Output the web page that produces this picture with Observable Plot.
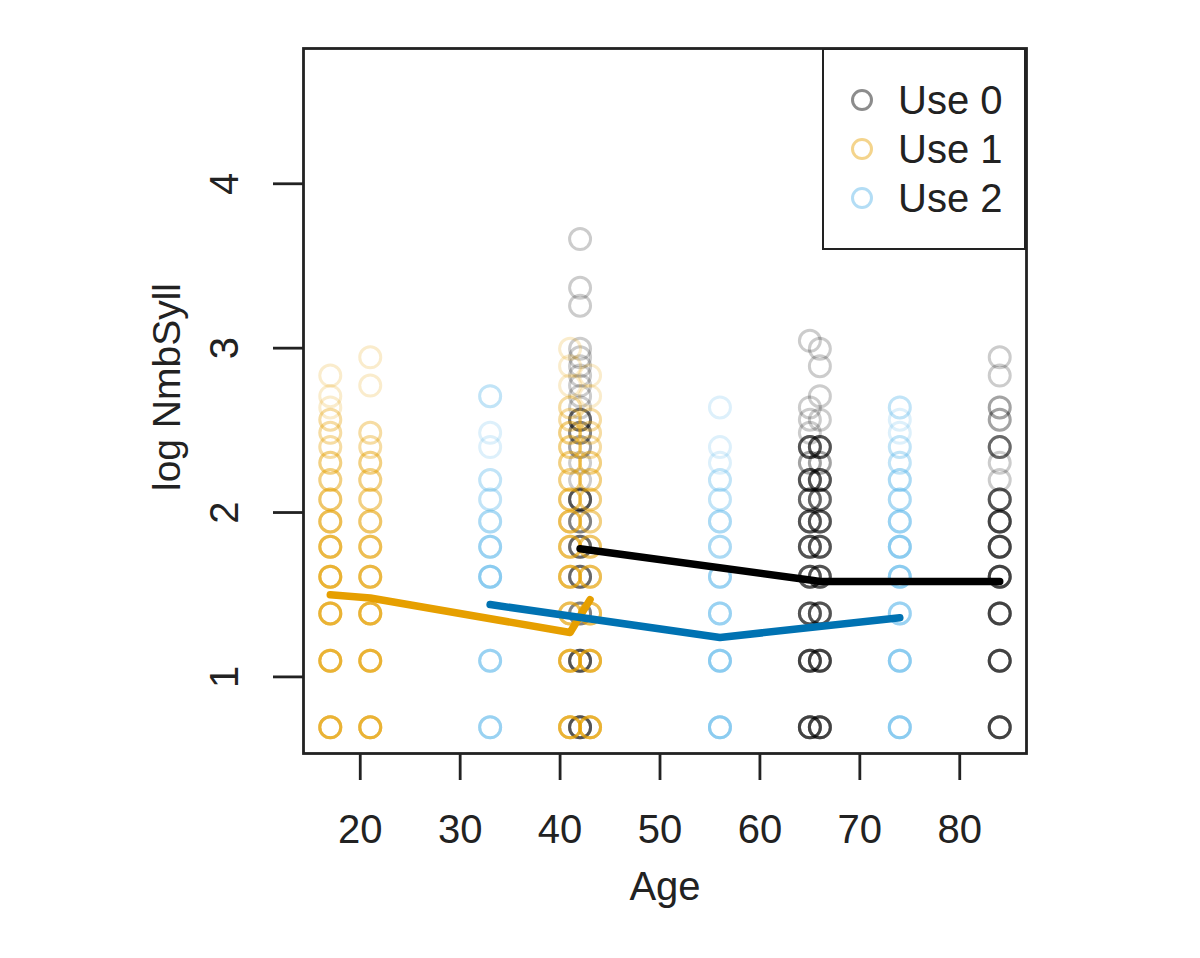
<!DOCTYPE html>
<html><head><meta charset="utf-8">
<script src="https://cdn.jsdelivr.net/npm/d3@7"></script>
<script src="https://cdn.jsdelivr.net/npm/@observablehq/plot@0.6"></script>
<style>
body{margin:0;background:#fff;font-family:"Liberation Sans",Arial,Helvetica,sans-serif;}
#wrap{position:relative;width:1200px;height:958px;}
#legend{position:absolute;left:822px;top:48px;width:204px;height:202px;box-sizing:border-box;border:2.5px solid #222;background:#fff;}
.li{position:absolute;left:0;height:40px;width:100%;}
.li svg{position:absolute;left:24px;top:6px;}
.li span{position:absolute;left:74px;top:0;line-height:40px;font-size:40px;color:#222;}
</style></head><body><div id="wrap"><div id="legend"></div></div>
<script>
// ---- data (syllable counts per age, as [number of syllables, how many utterances]) ----
const useLabels = ["Use 0", "Use 1", "Use 2"];
const pointColors = ["#000000", "#E69F00", "#56B4E9"];
const lineColors = ["#000000", "#E69F00", "#0072B2"];

const use0Ages = [42, 65, 66, 84];
const use0Counts = [
  [[2,5],[3,5],[4,3],[5,4],[6,4],[7,3],[8,5],[9,1],[10,1],[11,2],[12,3],[13,4],[14,1],[15,1],[16,1],[17,1],[18,1],[19,1],[20,1],[26,1],[29,1],[39,1]],
  [[2,6],[3,6],[4,5],[5,5],[6,5],[7,5],[8,4],[9,5],[10,2],[11,5],[12,1],[13,1],[14,1],[21,1]],
  [[2,6],[3,6],[4,5],[5,5],[6,5],[7,5],[8,4],[9,5],[10,2],[11,5],[13,1],[15,1],[18,1],[20,1]],
  [[2,6],[3,6],[4,6],[5,6],[6,6],[7,6],[8,5],[9,1],[10,1],[11,4],[13,2],[14,2],[17,1],[19,1]]
];
const use1Ages = [17, 21, 41, 43];
const use1Counts = [
  [[2,7],[3,7],[4,7],[5,7],[6,6],[7,5],[8,4],[9,3],[10,3],[11,2],[12,2],[13,2],[14,1],[15,1],[17,1]],
  [[2,7],[3,7],[4,7],[5,6],[6,5],[7,4],[8,3],[9,3],[10,3],[11,2],[12,2],[16,1],[19,1]],
  [[2,7],[3,7],[4,5],[5,6],[6,5],[7,5],[8,4],[9,3],[10,3],[11,3],[12,3],[13,2],[14,2],[16,1],[18,1],[20,1]],
  [[2,7],[3,7],[4,5],[5,5],[6,4],[7,3],[8,3],[9,3],[10,3],[11,2],[12,2],[13,2],[15,1],[17,1]]
];
const use2Ages = [33, 56, 74];
const use2Counts = [
  [[2,4],[3,4],[5,5],[6,4],[7,3],[8,2],[9,2],[11,1],[12,1],[15,2]],
  [[2,5],[3,5],[4,4],[5,4],[6,3],[7,3],[8,2],[9,2],[10,1],[11,1],[14,1]],
  [[2,5],[3,5],[4,4],[5,5],[6,5],[7,4],[8,3],[9,3],[10,2],[11,2],[12,1],[13,1],[14,2]]
];

// fitted lines (log NmbSyll)
const line0Ages = [42, 65, 66, 84];
const line0Values = [1.78, 1.59, 1.58, 1.58];
const line1Ages = [17, 21, 41, 43];
const line1Values = [1.50, 1.48, 1.27, 1.47];
const line2Ages = [33, 56, 74];
const line2Values = [1.44, 1.24, 1.36];

const xTicks = [20, 30, 40, 50, 60, 70, 80];
const yTicks = [1, 2, 3, 4];
const xDomain = [14.32, 86.68];
const yDomain = [0.534, 4.823];

// ---- build tables ----
const groups = [[use0Ages, use0Counts], [use1Ages, use1Counts], [use2Ages, use2Counts]];
const points = [];
groups.forEach(([ages, counts], g) => {
  ages.forEach((age, i) => {
    counts[i].forEach(([n, c]) => {
      for (let k = 0; k < c; k++) points.push({use: useLabels[g], age, y: Math.log(n)});
    });
  });
});
const lines = [[line0Ages, line0Values], [line1Ages, line1Values], [line2Ages, line2Values]]
  .map(([a, v]) => a.map((age, i) => ({age, y: v[i]})));

const ink = "#222";
const chart = Plot.plot({
  width: 1200, height: 958,
  marginLeft: 303, marginRight: 174, marginTop: 48, marginBottom: 205,
  style: {fontFamily: '"Liberation Sans", Arial, sans-serif', background: "#fff"},
  x: {domain: xDomain},
  y: {domain: yDomain},
  color: {domain: useLabels, range: pointColors},
  marks: [
    Plot.dot(points, {x: "age", y: "y", stroke: "use", r: 10.5, strokeWidth: 3, strokeOpacity: 0.2}),
    ...lines.map((rows, g) => Plot.line(rows, {x: "age", y: "y", stroke: lineColors[g], strokeWidth: 7.5})),
    Plot.frame({stroke: "#222", strokeWidth: 2.8}),
    Plot.axisX({ticks: xTicks, tickSize: 27, tickPadding: 34, fontSize: 40, color: ink, strokeWidth: 2.8, label: null}),
    Plot.axisY({ticks: yTicks, tickSize: 30, tickFormat: () => "", color: ink, strokeWidth: 2.8, label: null}),
    Plot.text(yTicks, {y: d => d, text: d => String(d), frameAnchor: "left", dx: -78, rotate: -90, fontSize: 40, fill: ink, textAnchor: "middle", lineAnchor: "middle"}),
    Plot.text(["Age"], {text: d => d, frameAnchor: "bottom", dy: 146, fontSize: 40, fill: ink}),
    Plot.text(["log NmbSyll"], {text: d => d, frameAnchor: "left", dx: -136, dy: -14, rotate: -90, fontSize: 39, fill: ink, textAnchor: "middle", lineAnchor: "middle"})
  ]
});
const wrap = document.getElementById("wrap");
wrap.insertBefore(chart, wrap.firstChild);

// legend
const legend = document.getElementById("legend");
useLabels.forEach((lab, i) => {
  const row = document.createElement("div");
  row.className = "li";
  row.style.top = (30 + i * 49) + "px";
  row.innerHTML = `<svg width="28" height="28"><circle cx="14" cy="14" r="9.5" fill="none" stroke="${pointColors[i]}" stroke-width="3" stroke-opacity="0.45"/></svg><span>${lab}</span>`;
  legend.appendChild(row);
});
</script></body></html>
